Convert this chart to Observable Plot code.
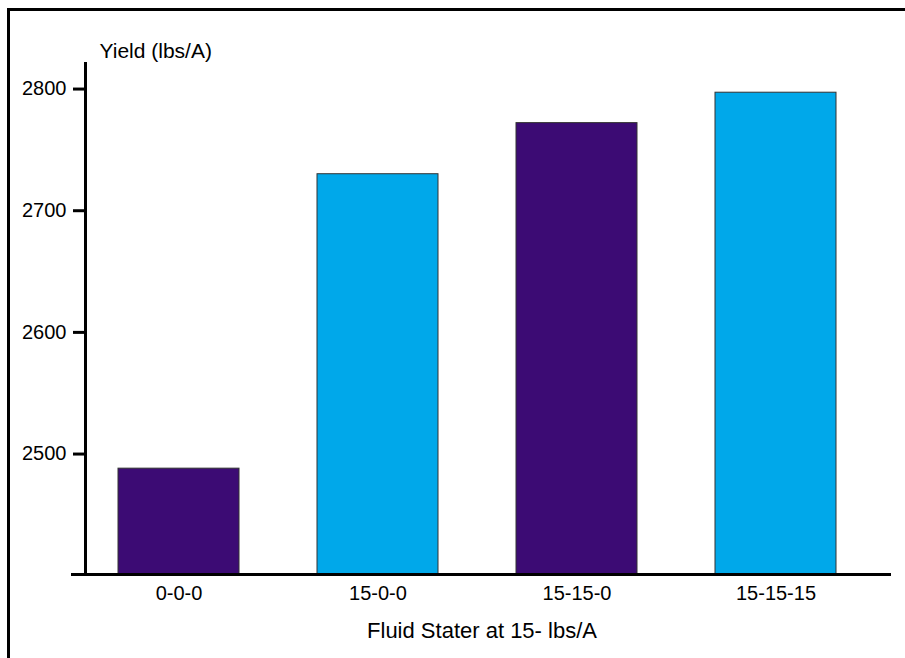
<!DOCTYPE html>
<html>
<head>
<meta charset="utf-8">
<script src="https://cdn.jsdelivr.net/npm/d3@7"></script>
<script src="https://cdn.jsdelivr.net/npm/@observablehq/plot@0.6"></script>
<style>
  html, body { margin: 0; padding: 0; background: #fff; }
  #wrap { position: relative; width: 905px; height: 658px; overflow: hidden; font-family: "Liberation Sans", Arial, sans-serif; }
  #border { position: absolute; left: 7px; top: 8px; right: -10px; bottom: -10px; border-top: 3px solid #000; border-left: 3px solid #000; }
  #chart { position: absolute; left: 0; top: 0; }
</style>
</head>
<body>
<div id="wrap"><div id="border"></div><div id="chart"></div></div>
<script>
const categories = ["0-0-0", "15-0-0", "15-15-0", "15-15-15"];
const yields = [2488, 2730, 2772, 2797];
const groups = ["g1", "g2", "g1", "g2"];
const groupColors = ["#3c0b74", "#00a8ea"];
const yTicks = [2500, 2600, 2700, 2800];
const yDomain = [2401, 2821];
const yLabel = "Yield (lbs/A)";
const xLabel = "Fluid Stater at 15- lbs/A";

const data = categories.map((c, i) => ({category: c, yield: yields[i], group: groups[i]}));

const chart = Plot.plot({
  width: 905,
  height: 658,
  marginTop: 63,
  marginBottom: 84,
  marginLeft: 85,
  marginRight: 37,
  style: {fontFamily: "'Liberation Sans', Arial, sans-serif", color: "#000", background: "transparent"},
  x: {domain: categories, paddingInner: 0.393, paddingOuter: 0.155, label: null},
  y: {domain: yDomain, label: null},
  color: {domain: ["g1", "g2"], range: groupColors},
  marks: [
    Plot.barY(data, {x: "category", y: "yield", fill: "group", stroke: "#333", strokeWidth: 1, clip: true}),
    Plot.frame({anchor: "left", strokeWidth: 3, stroke: "#000"}),
    Plot.frame({anchor: "bottom", strokeWidth: 3, stroke: "#000", insetLeft: -13, insetRight: -21}),
    Plot.axisY({ticks: yTicks, tickSize: 12, tickPadding: 7, strokeWidth: 3, fontSize: 20, label: null, tickFormat: d => String(d)}),
    Plot.axisX({tickSize: 0, tickPadding: 11, fontSize: 20, label: null}),
    Plot.text([yLabel], {frameAnchor: "top-left", dx: 14, dy: -6, textAnchor: "start", lineAnchor: "bottom", fontSize: 21, fill: "#000"}),
    Plot.text([xLabel], {frameAnchor: "bottom", dx: 5, dy: 63, lineAnchor: "bottom", fontSize: 22, fill: "#000"})
  ]
});
document.getElementById("chart").appendChild(chart);
</script>
</body>
</html>
